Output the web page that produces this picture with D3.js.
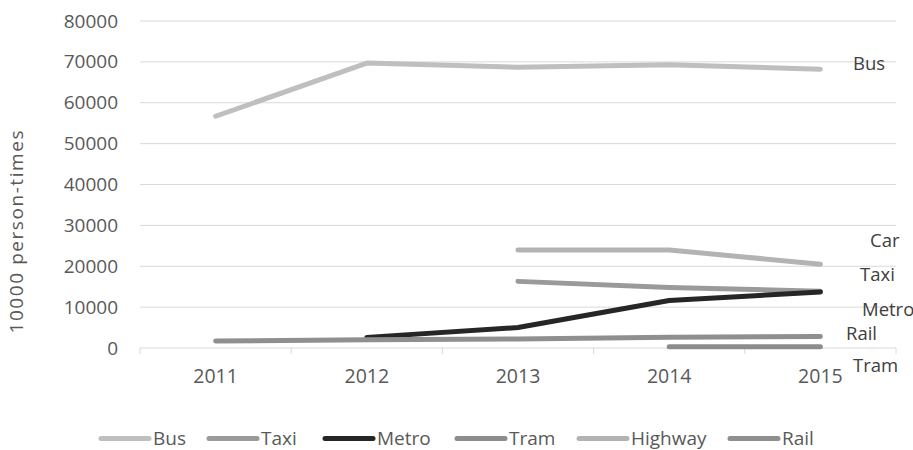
<!DOCTYPE html>
<html>
<head>
<meta charset="utf-8">
<script src="https://cdn.jsdelivr.net/npm/d3@7"></script>
<style>
  body { margin: 0; background: #fff; }
  text { font-family: "Open Sans", sans-serif; fill: #595959; }
</style>
</head>
<body>
<div id="chart"></div>
<script>
// data (10000 person-times)
let years = ['2011', '2012', '2013', '2014', '2015'];
let bus = [56700, 69700, 68700, 69300, 68200];
let taxi = [null, null, 16300, 14800, 13900];
let metro = [null, 2600, 5000, 11600, 13700];
let tram = [null, null, null, 300, 300];
let highway = [null, null, 24000, 24000, 20500];
let rail = [1700, 2000, 2200, 2600, 2800];
let yTicks = [0, 10000, 20000, 30000, 40000, 50000, 60000, 70000, 80000];

// series, drawn in this order; end labels as printed on the right
let series = [
  {name: 'Bus', values: bus, color: '#bfbfbf', label: 'Bus', lx: 853, ly: 70},
  {name: 'Taxi', values: taxi, color: '#9a9a9a', label: 'Taxi', lx: 860, ly: 281},
  {name: 'Metro', values: metro, color: '#262626', label: 'Metro', lx: 862, ly: 316},
  {name: 'Tram', values: tram, color: '#8c8c8c', label: 'Tram', lx: 853, ly: 372},
  {name: 'Highway', values: highway, color: '#b3b3b3', label: 'Car', lx: 870, ly: 247},
  {name: 'Rail', values: rail, color: '#8f8f8f', label: 'Rail', lx: 846, ly: 340}
];

let width = 913, height = 450;
let margin = {top: 21, left: 140, right: 17, bottom: 102};
let innerW = width - margin.left - margin.right,
    innerH = height - margin.top - margin.bottom;

let svg = d3.select('#chart')
  .append('svg')
    .attr('width', width)
    .attr('height', height);

let g = svg.append('g')
  .attr('transform', 'translate(' + margin.left + ',' + margin.top + ')');

let x = d3.scaleBand()
  .domain(years)
  .range([0, innerW]);

let y = d3.scaleLinear()
  .domain([0, 80000])
  .range([innerH, 0]);

// gridlines
g.selectAll('.grid')
  .data(yTicks.filter(d => d > 0))
  .enter()
  .append('line')
    .attr('x1', 0)
    .attr('x2', innerW)
    .attr('y1', d => y(d))
    .attr('y2', d => y(d))
    .style('stroke', '#d9d9d9')
    .style('stroke-width', 1);

// y axis labels
let yAxis = g.append('g')
  .style('font-size', '19px')
  .call(d3.axisLeft(y).tickValues(yTicks).tickSize(0).tickPadding(22).tickFormat(d3.format('d')));
yAxis.select('.domain').remove();
yAxis.selectAll('text').style('font-family', '"Open Sans", sans-serif').style('fill', '#595959');

// x axis with category boundary ticks
g.append('line')
  .attr('x1', 0).attr('x2', innerW)
  .attr('y1', innerH).attr('y2', innerH)
  .style('stroke', '#d9d9d9');
g.selectAll('.xtick')
  .data(years.concat(['end']))
  .enter()
  .append('line')
    .attr('x1', (d, i) => i * x.step())
    .attr('x2', (d, i) => i * x.step())
    .attr('y1', innerH)
    .attr('y2', innerH + 6)
    .style('stroke', '#d9d9d9');
g.selectAll('.xlab')
  .data(years)
  .enter()
  .append('text')
    .attr('x', d => x(d) + x.bandwidth() / 2)
    .attr('y', innerH + 35)
    .style('font-size', '19.5px')
    .style('text-anchor', 'middle')
    .text(d => d);

// y axis title
svg.append('text')
  .attr('transform', 'translate(23,' + 232 + ') rotate(-90)')
  .attr('textLength', 203)
  .attr('lengthAdjust', 'spacing')
  .attr('x', -101.5)
  .style('font-size', '19px')
  .text('10000 person-times');

// lines
let line = d3.line()
  .defined(d => d.v != null)
  .x(d => x(d.year) + x.bandwidth() / 2)
  .y(d => y(d.v));

series.forEach(function(s) {
  let pts = years.map((yr, i) => ({year: yr, v: s.values[i]}));
  g.append('path')
    .datum(pts)
    .attr('d', line)
    .style('fill', 'none')
    .style('stroke', s.color)
    .style('stroke-width', 5)
    .style('stroke-linecap', 'round')
    .style('stroke-linejoin', 'round');
});

// end labels
svg.selectAll('.endlab')
  .data(series)
  .enter()
  .append('text')
    .attr('x', d => d.lx)
    .attr('y', d => d.ly)
    .style('font-size', '18.5px')
    .style('fill', '#404040')
    .text(d => d.label);

// legend
let legendX = [100, 208, 324, 456, 578, 729];
let legend = svg.selectAll('.legend')
  .data(series)
  .enter()
  .append('g')
    .attr('transform', (d, i) => 'translate(' + legendX[i] + ',438.5)');
legend.append('line')
  .attr('x1', 1).attr('x2', 49)
  .attr('y1', 0).attr('y2', 0)
  .style('stroke', d => d.color)
  .style('stroke-width', 5)
  .style('stroke-linecap', 'round');
legend.append('text')
  .attr('x', 53)
  .attr('y', 6)
  .style('font-size', '19px')
  .text(d => d.name);
</script>
</body>
</html>
